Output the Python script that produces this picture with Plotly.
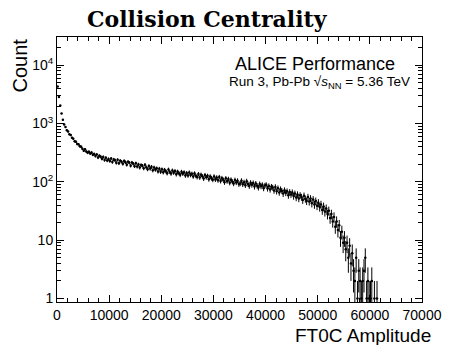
import numpy as np
import plotly.graph_objects as go

# ---- data: FT0C amplitude histogram, bin width 250, counts ----
BIN_WIDTH = 250
counts_0_5k = [4310, 2870, 2035, 1490, 1162, 967, 874, 771, 731, 655, 634, 571, 552, 498, 489, 447, 441, 408, 402, 371]
counts_5k_10k = [343, 362, 331, 317, 329, 306, 318, 293, 301, 279, 296, 262, 281, 270, 249, 268, 237, 259, 233, 247]
counts_10k_15k = [228, 251, 219, 243, 236, 212, 239, 209, 231, 222, 204, 229, 218, 197, 221, 213, 190, 214, 205, 186]
counts_15k_20k = [208, 183, 199, 176, 194, 189, 171, 196, 178, 165, 187, 169, 181, 158, 176, 162, 171, 151, 168, 149]
counts_20k_25k = [164, 146, 161, 152, 141, 163, 148, 139, 157, 144, 153, 135, 150, 141, 132, 149, 138, 146, 129, 142]
counts_25k_30k = [129, 145, 131, 138, 124, 140, 127, 121, 136, 119, 133, 125, 114, 131, 120, 127, 111, 124, 116, 109]
counts_30k_35k = [124, 110, 119, 107, 121, 104, 116, 109, 99, 115, 103, 112, 97, 109, 101, 94, 108, 98, 105, 92]
counts_35k_40k = [94, 105, 91, 99, 88, 103, 92, 85, 97, 89, 96, 83, 94, 86, 80, 92, 84, 89, 78, 87]
counts_40k_45k = [89, 77, 85, 74, 83, 80, 71, 82, 69, 78, 66, 75, 70, 63, 72, 65, 69, 59, 67, 61]
counts_45k_50k = [66, 57, 63, 54, 61, 52, 59, 55, 49, 58, 51, 47, 55, 46, 52, 43, 50, 41, 47, 39]
counts_50k_55k = [44, 37, 41, 33, 38, 31, 35, 28, 32, 24, 28, 21, 25, 17, 21, 15, 18, 11, 14, 9]
counts_55k_60k = [11, 7, 9, 5, 8, 4, 6, 3, 2, 5, 1, 3, 2, 1, 2, 3, 5, 1, 2, 1]
counts_60k_62k = [1, 2, 0, 1, 0, 1, 0, 0]

x_ticks = [0, 10000, 20000, 30000, 40000, 50000, 60000, 70000]
x_tick_labels = ["0", "10000", "20000", "30000", "40000", "50000", "60000", "70000"]
y_ticks = [1, 10, 100, 1000, 10000]
y_tick_labels = ["1", "10", "10<sup>2</sup>", "10<sup>3</sup>", "10<sup>4</sup>"]
X_RANGE = [0, 70000]
Y_RANGE_LOG = [-0.06, 4.485]

counts = np.array(counts_0_5k + counts_5k_10k + counts_10k_15k + counts_15k_20k
                  + counts_20k_25k + counts_25k_30k + counts_30k_35k + counts_35k_40k
                  + counts_40k_45k + counts_45k_50k + counts_50k_55k + counts_55k_60k
                  + counts_60k_62k, dtype=float)
centers = BIN_WIDTH * (np.arange(len(counts)) + 0.5)
mask = counts > 0
xc = centers[mask]
yc = counts[mask]
err = np.sqrt(yc)
err_minus = np.where(yc - err <= 0, yc - 1e-3, err)

# minor tick positions (axis decoration)
x_minor_ticks = list(range(0, 70001, 2000))
y_minor_ticks = [m * 10 ** k for k in range(-1, 5) for m in range(2, 10)]

FONT = "Liberation Sans, Arial, sans-serif"

fig = go.Figure()
fig.add_trace(go.Scatter(
    x=xc, y=yc, mode="markers",
    marker=dict(color="black", size=2.5),
    error_y=dict(type="data", array=err, arrayminus=err_minus, color="black", thickness=1, width=0),
    error_x=dict(type="constant", value=BIN_WIDTH / 2, color="black", thickness=1, width=0),
    showlegend=False, hoverinfo="skip",
))

tick_common = dict(
    ticks="inside", ticklen=7, tickwidth=1, tickcolor="black",
    showgrid=False, zeroline=False,
    showline=True, linecolor="black", linewidth=1, mirror="allticks",
)
tickfont = dict(family=FONT, size=14, color="black")

fig.update_layout(
    xaxis=dict(range=X_RANGE, tickmode="array", tickvals=x_ticks, ticktext=x_tick_labels,
               minor=dict(tickvals=x_minor_ticks, ticks="inside", ticklen=4, tickcolor="black"),
               tickfont=tickfont, **tick_common),
    yaxis=dict(type="log", range=Y_RANGE_LOG, tickmode="array", tickvals=y_ticks, ticktext=y_tick_labels,
               minor=dict(tickvals=y_minor_ticks, ticks="inside", ticklen=4, tickcolor="black"),
               tickfont=tickfont, **tick_common),
)

annotations = [
    dict(text="<b>Collision Centrality</b>", x=0.411, y=1.068, xref="paper", yref="paper",
         xanchor="center", yanchor="middle", showarrow=False,
         font=dict(family="DejaVu Serif", size=22, color="black")),
    dict(text="ALICE Performance", x=0.707, y=0.898, xref="paper", yref="paper",
         xanchor="center", yanchor="middle", showarrow=False,
         font=dict(family=FONT, size=18, color="black")),
    dict(text="Run 3, Pb-Pb √<i>s</i><sub>NN</sub> = 5.36 TeV", x=0.72, y=0.828, xref="paper", yref="paper",
         xanchor="center", yanchor="middle", showarrow=False,
         font=dict(family=FONT, size=13.5, color="black")),
    dict(text="Count", x=-0.101, y=0.893, xref="paper", yref="paper", textangle=-90,
         xanchor="center", yanchor="middle", showarrow=False,
         font=dict(family=FONT, size=20, color="black")),
    dict(text="FT0C Amplitude", x=1.0, y=-0.128, xref="paper", yref="paper", xshift=11,
         xanchor="right", yanchor="middle", showarrow=False,
         font=dict(family=FONT, size=19, color="black")),
]

fig.update_layout(
    width=454, height=345,
    margin=dict(l=57, r=22, t=37, b=43),
    paper_bgcolor="white", plot_bgcolor="white",
    annotations=annotations,
    font=dict(family=FONT, color="black"),
)

fig.write_html("out.html")
